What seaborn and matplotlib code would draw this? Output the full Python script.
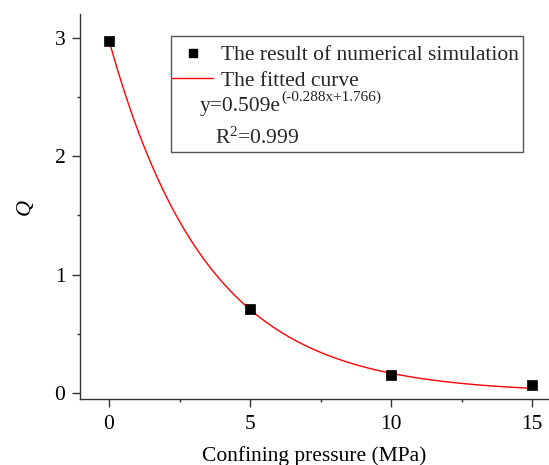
import numpy as np
import pandas as pd
import matplotlib
matplotlib.use("Agg")
import matplotlib.pyplot as plt
import seaborn as sns
from matplotlib.lines import Line2D
from matplotlib.patches import Rectangle
from matplotlib.ticker import MultipleLocator

# Data
pressure = [0, 5, 10, 15]
q_values = [2.975, 0.71, 0.152, 0.068]
# fitted curve coefficients (from the equation shown in the chart)
fit_a, fit_b, fit_c = 0.509, -0.288, 1.766
sim_label = "The result of numerical simulation"
fit_label = "The fitted curve"
eq_base = "y=0.509e"
eq_sup = "(-0.288x+1.766)"
r2_text = r"R$^{2}$=0.999"

sns.set_theme(style="ticks")
plt.rcParams["font.family"] = ["Liberation Serif", "DejaVu Serif"]
plt.rcParams["mathtext.fontset"] = "custom"
plt.rcParams["mathtext.rm"] = "Liberation Serif"
plt.rcParams["mathtext.it"] = "Liberation Serif:italic"

FS = 15.5
fig = plt.figure(figsize=(5.49, 4.65), dpi=100)
ax = fig.add_axes([0.1457, 0.142, 0.8543, 0.828])

xs = np.linspace(0, 15, 300)
curve = pd.DataFrame({"x": xs, "y": fit_a * np.exp(fit_b * xs + fit_c)})
sns.lineplot(data=curve, x="x", y="y", ax=ax, color="red", linewidth=1.0)
pts = pd.DataFrame({"x": pressure, "y": q_values})
sns.scatterplot(data=pts, x="x", y="y", ax=ax, marker="s", color="black",
                s=55, edgecolor="black", linewidth=0.5, zorder=5)

ax.set_xlim(-1.03, 15.6)
ax.set_ylim(-0.05, 3.2)
ax.xaxis.set_major_locator(MultipleLocator(5))
ax.xaxis.set_minor_locator(MultipleLocator(2.5))
ax.yaxis.set_major_locator(MultipleLocator(1))
ax.yaxis.set_minor_locator(MultipleLocator(0.5))
for s in ["top", "right"]:
    ax.spines[s].set_visible(False)
for s in ["left", "bottom"]:
    ax.spines[s].set_color("#333333")
    ax.spines[s].set_linewidth(1.0)
ax.tick_params(which="major", length=5.5, width=1, color="#333333", labelsize=FS,
               labelcolor="black")
ax.tick_params(axis="x", which="major", pad=6)
ax.tick_params(axis="y", which="major", pad=5)
ax.tick_params(which="minor", length=2.5, width=1, color="#333333")
ax.set_xlabel("Confining pressure (MPa)", fontsize=FS, labelpad=9, color="black")
ax.set_ylabel("Q", fontsize=16, fontstyle="italic", labelpad=14, color="black")

# Legend box (figure pixel coords converted to figure fractions)
W, H = 549, 465
left, right, top, bottom = 171, 523, 36, 152
fig.patches.append(Rectangle((left / W, 1 - bottom / H), (right - left) / W, (bottom - top) / H,
                             transform=fig.transFigure, fill=False, edgecolor="#555555",
                             linewidth=1.0, zorder=10))
handles = [Line2D([], [], marker="s", linestyle="none", color="black", markersize=6),
           Line2D([], [], color="red", linewidth=1.0)]
fig.legend(handles, [sim_label, fit_label], loc="upper left",
           bbox_to_anchor=(168 / W, 1 - 41 / H), frameon=False, fontsize=FS,
           handlelength=1.9, handletextpad=0.35, labelspacing=0.25, borderpad=0.2,
           borderaxespad=0.0)
base = fig.text(200 / W, 1 - 106 / H, eq_base, fontsize=FS, va="center", ha="left")
ax.annotate(eq_sup, xy=(1.0, 0.62), xycoords=base, fontsize=11, va="bottom", ha="left",
            annotation_clip=False)
fig.text(215 / W, 1 - 138 / H, r2_text, fontsize=FS, va="center", ha="left")

fig.savefig("out.png", dpi=100)
